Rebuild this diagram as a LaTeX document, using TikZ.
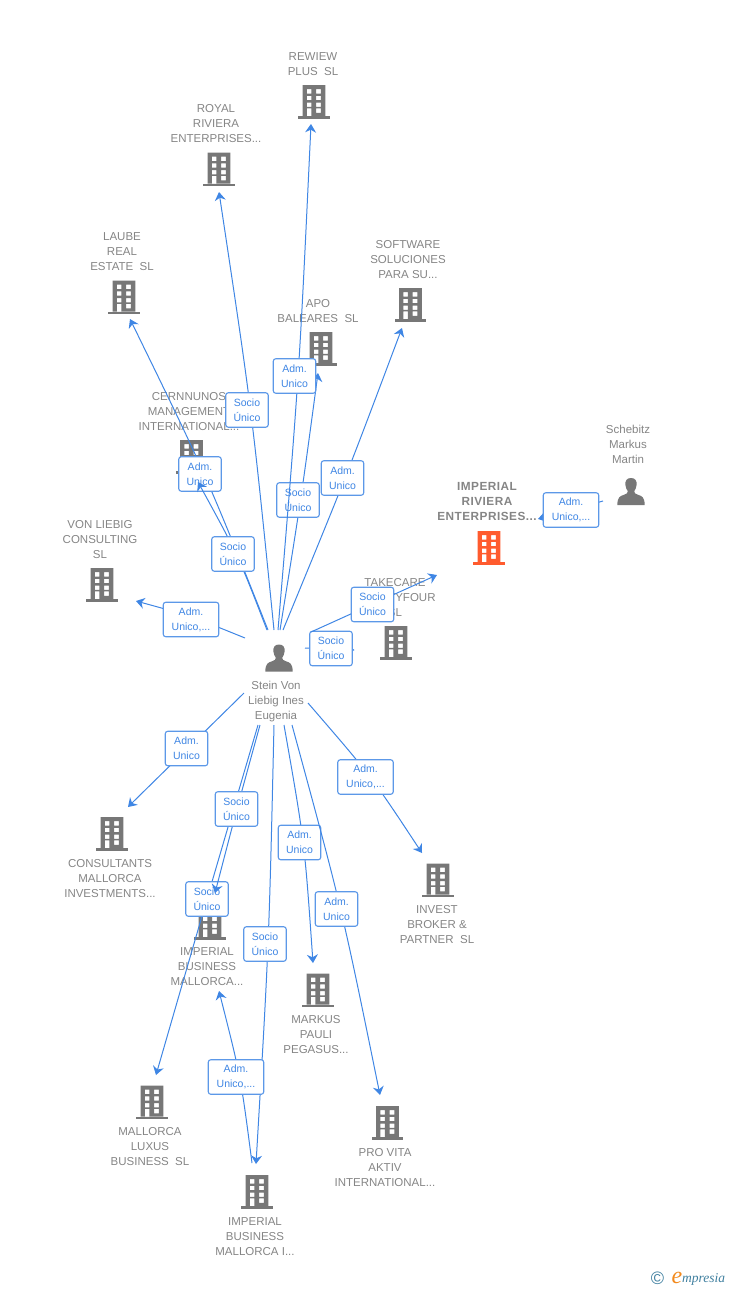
\documentclass[tikz,border=0pt]{standalone}
\usepackage{fontspec}
\setmainfont{Liberation Sans}
\newfontfamily\logofont{Liberation Serif}
\newfontfamily\boldspaced[LetterSpace=4]{Liberation Sans Bold}
\usetikzlibrary{arrows.meta,calc}
\definecolor{icon}{HTML}{777777}
\definecolor{labelgray}{HTML}{858585}
\definecolor{edgeblue}{HTML}{3F86E4}
\definecolor{boxtext}{HTML}{3F86E4}
\definecolor{orangeicon}{HTML}{FF5B2E}
\definecolor{logoblue}{HTML}{3F7F9F}
\definecolor{logoorange}{HTML}{F28A1E}
\tikzset{
  entlabel/.style={inner sep=0pt,align=center,text=labelgray,yshift=-0.8pt,font=\fontsize{11.5}{15}\selectfont},
  edgeline/.style={draw=edgeblue,line width=1pt},
  arrowed/.style={edgeline,-{Stealth[length=8.5pt,width=11pt,inset=2.8pt]}},
  edgebox/.style={draw=edgeblue!85,line width=1.1pt,rounded corners=2.5pt,fill=white,text=boxtext,
    align=center,inner sep=0pt,minimum height=34.5pt,font=\fontsize{10.5}{15}\selectfont},
  narrowbox/.style={edgebox,minimum width=42.5pt},
  widebox/.style={edgebox,minimum width=55.5pt},
}
% entity icons
\newcommand{\building}[4]{% name, cx, top, colour
  \begin{scope}[shift={(#2,#3)}]
    \fill[#4,even odd rule]
      (-11.3,0) rectangle (11.3,31)
      (-7.2,4) rectangle (-2.6,8.5) (2.2,4) rectangle (6.8,8.5)
      (-7.2,10.8) rectangle (-2.6,15.2) (2.2,10.8) rectangle (6.8,15.2)
      (-7.2,17.5) rectangle (-2.6,21.9) (2.2,17.5) rectangle (6.8,21.9)
      (-7.2,23.3) rectangle (-2.6,31) (2.2,23.3) rectangle (6.8,27.8);
    \fill[#4] (-15.7,31) rectangle (15.7,33.6);
    \node[inner sep=0pt,minimum width=31pt,minimum height=33pt] (#1) at (0,16.8) {};
  \end{scope}}
\newcommand{\person}[3]{% name, cx, top
  \begin{scope}[shift={(#2,#3)}]
    \fill[icon] (0,0) .. controls (-4.4,0) and (-6,3) .. (-5.6,7)
       .. controls (-5.3,10) and (-4.3,11.5) .. (-3.2,13.2)
       .. controls (-3.2,15) and (-4,15.8) .. (-7,16.8)
       .. controls (-11,18) and (-13.5,19) .. (-13.7,27) -- (13.7,27)
       .. controls (13.5,19) and (11,18) .. (7,16.8)
       .. controls (4,15.8) and (3.2,15) .. (3.2,13.2)
       .. controls (4.3,11.5) and (5.3,10) .. (5.6,7)
       .. controls (6,3) and (4.4,0) .. (0,0) -- cycle;
    \node[inner sep=0pt,minimum width=27pt,minimum height=27pt] (#1) at (0,13.5) {};
  \end{scope}}
% one edge: id, start, point on the way, tip, tip style, box position, box style, box text
\newcommand{\edgeitem}[8]{%
  \coordinate (#1-s) at (#2);
  \coordinate (#1-m) at (#3);
  \coordinate (#1-e) at (#4);
  \draw[#5] (#1-s) .. controls ($1.3333*(#1-m)-0.16667*(#1-s)-0.16667*(#1-e)$) .. (#1-e);
  \node[#7] (#1-box) at (#6) {#8};}
\begin{document}
\begin{tikzpicture}[x=1pt,y=-1pt]
\useasboundingbox (0,0) rectangle (728,1290);
% labels
\node[entlabel] (t1) at (313,63.5) {REWIEW\\PLUS\ \ SL};
\node[entlabel] (t2) at (216,123) {ROYAL\\RIVIERA\\ENTERPRISES...};
\node[entlabel] (t3) at (122,251) {LAUBE\\REAL\\ESTATE\ \ SL};
\node[entlabel] (t4) at (318,310.5) {APO\\BALEARES\ \ SL};
\node[entlabel] (t5) at (408,259) {SOFTWARE\\SOLUCIONES\\PARA SU...};
\node[entlabel] (t6) at (189,411) {CERNNUNOS\\MANAGEMENT\\INTERNATIONAL...};
\node[entlabel] (t7) at (100,539) {VON LIEBIG\\CONSULTING\\SL};
\node[entlabel] (t8) at (395,597) {TAKECARE\\TWENTYFOUR\\SL};
\node[entlabel,font=\boldspaced\fontsize{11.8}{15}\selectfont] (t9) at (487,501) {IMPERIAL\\RIVIERA\\ENTERPRISES...};
\node[entlabel] (t10) at (628,444) {Schebitz\\Markus\\Martin};
\node[entlabel] (t11) at (276,701) {Stein Von\\Liebig Ines\\Eugenia};
\node[entlabel] (t12) at (110,878) {CONSULTANTS\\MALLORCA\\INVESTMENTS...};
\node[entlabel] (t13) at (437,924) {INVEST\\BROKER \&\\PARTNER\ \ SL};
\node[entlabel] (t14) at (207,966) {IMPERIAL\\BUSINESS\\MALLORCA...};
\node[entlabel] (t15) at (316,1034) {MARKUS\\PAULI\\PEGASUS...};
\node[entlabel] (t16) at (150,1146) {MALLORCA\\LUXUS\\BUSINESS\ \ SL};
\node[entlabel] (t17) at (385,1167) {PRO VITA\\AKTIV\\INTERNATIONAL...};
\node[entlabel] (t18) at (255,1236) {IMPERIAL\\BUSINESS\\MALLORCA I...};
% icons
\building{rewiew}{314}{85}{icon}
\building{royal}{219}{152.5}{icon}
\building{laube}{124}{280.5}{icon}
\building{apo}{321}{332}{icon}
\building{software}{410.5}{288}{icon}
\building{cern}{191.5}{440}{icon}
\building{vonl}{102}{568}{icon}
\building{takecare}{396}{626}{icon}
\building{riviera}{489}{531}{orangeicon}
\building{consult}{112}{817}{icon}
\building{impbus}{210}{906}{icon}
\building{invest}{438}{863.5}{icon}
\building{markus}{318}{973.5}{icon}
\building{luxus}{152}{1085.5}{icon}
\building{provita}{387.5}{1106}{icon}
\building{impi}{257}{1175}{icon}
\person{stein}{279}{644.5}
\person{schebitz}{631}{478}
% edges with their boxes, in drawing order
\edgeitem{eapo}{280,630}{300.5,500}{318,373}{arrowed}{298,500}{narrowbox}{Socio\\Único}
\edgeitem{erew}{278,630}{298,376}{311,124}{arrowed}{294.5,376}{narrowbox}{Adm.\\Unico}
\edgeitem{elau}{268,630}{204,474}{130,319}{arrowed}{200,474}{narrowbox}{Adm.\\Unico}
\edgeitem{ecer}{267,630}{237,556}{198,482}{arrowed}{233,554}{narrowbox}{Socio\\Único}
\edgeitem{eroy}{274,630}{250.5,410}{219,192}{arrowed}{247,410}{narrowbox}{Socio\\Único}
\edgeitem{esof}{283,630}{345,478}{402,328}{arrowed}{342.5,478}{narrowbox}{Adm.\\Unico}
\edgeitem{evon}{245,638}{191,617}{136,601}{arrowed}{191,619.5}{widebox}{Adm.\\Unico,...}
\edgeitem{etak}{305,648}{330,649}{354.5,650}{arrowed}{331,648.5}{narrowbox}{Socio\\Único}
\edgeitem{eriv}{311,632}{372,604}{437,575}{arrowed}{372.5,604.5}{narrowbox}{Socio\\Único}
\edgeitem{esch}{603,501}{571,510}{538,519}{arrowed}{571,510}{widebox}{Adm.\\Unico,...}
\edgeitem{econ}{244,693}{187,748}{128,807}{arrowed}{186.5,748.5}{narrowbox}{Adm.\\Unico}
\edgeitem{elux}{258,725}{207,899}{156,1075}{arrowed}{207,899}{narrowbox}{Socio\\Único}
\edgeitem{eimb}{260,725}{237,809}{215,893}{arrowed}{236.5,809}{narrowbox}{Socio\\Único}
\edgeitem{eimi}{274,725}{268,944}{256,1164}{arrowed}{265,944}{narrowbox}{Socio\\Único}
\edgeitem{eadm}{252,1163}{239.5,1077}{219,991}{arrowed}{236,1077}{widebox}{Adm.\\Unico,...}
\edgeitem{emar}{284,725}{303,842}{313,963}{arrowed}{299.5,842.5}{narrowbox}{Adm.\\Unico}
\edgeitem{epro}{292,725}{340.5,909}{380,1095}{arrowed}{336.5,909}{narrowbox}{Adm.\\Unico}
\edgeitem{einv}{308,703}{370,777}{422,853}{arrowed}{365.5,777}{widebox}{Adm.\\Unico,...}
% logo
\node[inner sep=0pt,text=logoblue,font=\fontsize{18}{18}\selectfont] (copy) at (657.5,1278) {©};
\node[inner sep=0pt,text=logoorange,font=\logofont\itshape\fontsize{24}{24}\selectfont] (logoe) at (677,1278) {e};
\node[inner sep=0pt,anchor=west,text=logoblue,font=\logofont\itshape\fontsize{13.5}{14}\selectfont] (logotext) at (682,1279) {mpresia};
\end{tikzpicture}
\end{document}
